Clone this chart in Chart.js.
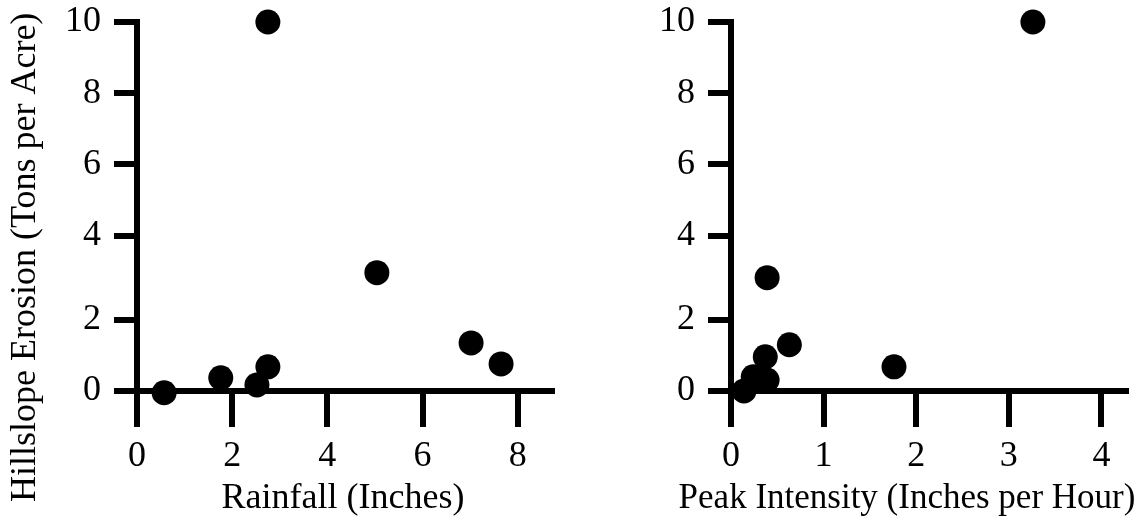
<!DOCTYPE html>
<html>
<head>
<meta charset="utf-8">
<script src="https://cdn.jsdelivr.net/npm/chart.js@4/dist/chart.umd.min.js"></script>
<style>
    html, body { margin: 0; padding: 0; background: #fff; }
    #wrap { position: relative; width: 1138px; height: 523px; }
    .panel { position: absolute; top: 0; width: 569px; height: 523px; }
</style>
</head>
<body>
<div id="wrap">
    <div class="panel" style="left:0"><canvas id="rainChart" width="569" height="523"></canvas></div>
    <div class="panel" style="left:569px"><canvas id="peakChart" width="569" height="523"></canvas></div>
</div>
<script>
// Storm data
const rainfall = [0.57, 1.76, 2.52, 2.75, 2.75, 5.04, 7.02, 7.65];
const erosionByRain = [-0.05, 0.37, 0.17, 0.68, 10, 3.12, 1.35, 0.76];

const peakIntensity = [0.14, 0.24, 0.39, 0.37, 0.39, 0.63, 1.76, 3.26];
const erosionByPeak = [0.0, 0.4, 0.31, 0.96, 3.0, 1.3, 0.68, 10];

const rainTicks = [0, 2, 4, 6, 8];
const peakTicks = [0, 1, 2, 3, 4];
const erosionTicks = [0, 2, 4, 6, 8, 10];

const rainTitle = 'Rainfall (Inches)';
const peakTitle = 'Peak Intensity (Inches per Hour)';
const erosionTitle = 'Hillslope Erosion (Tons per Acre)';

const FONT_FAMILY = '"Liberation Serif", "Times New Roman", serif';
const FONT_SIZE = 36;

// The original y axis has the 2..4 interval drawn a bit taller than the others
const STRETCH_FROM = 2, STRETCH_TO = 4, STRETCH = 84 / 71;

function stretch(v) {
    if (v <= STRETCH_FROM) return v;
    if (v <= STRETCH_TO) return STRETCH_FROM + (v - STRETCH_FROM) * STRETCH;
    return STRETCH_FROM + (STRETCH_TO - STRETCH_FROM) * STRETCH + (v - STRETCH_TO);
}

function unstretch(s) {
    const top = STRETCH_FROM + (STRETCH_TO - STRETCH_FROM) * STRETCH;
    if (s <= STRETCH_FROM) return s;
    if (s <= top) return STRETCH_FROM + (s - STRETCH_FROM) / STRETCH;
    return STRETCH_TO + (s - top);
}

class StretchedScale extends Chart.LinearScale {
    getPixelForValue(value) {
        if (value === null || isNaN(value)) return NaN;
        const lo = stretch(this.min), hi = stretch(this.max);
        return this.getPixelForDecimal((stretch(value) - lo) / (hi - lo));
    }
    getValueForPixel(pixel) {
        const lo = stretch(this.min), hi = stretch(this.max);
        return unstretch(lo + this.getDecimalForPixel(pixel) * (hi - lo));
    }
}
StretchedScale.id = 'stretched';
StretchedScale.defaults = Chart.LinearScale.defaults;
Chart.register(StretchedScale);

// Axis titles are placed freely, like in the original figure
const axisTitles = {
    id: 'axisTitles',
    afterDraw(chart, args, opts) {
        const ctx = chart.ctx;
        ctx.save();
        ctx.fillStyle = '#000';
        ctx.textBaseline = 'alphabetic';
        (opts.items || []).forEach(t => {
            ctx.save();
            ctx.font = `${t.size || FONT_SIZE}px ${FONT_FAMILY}`;
            ctx.translate(t.x, t.y);
            if (t.rotate) ctx.rotate(t.rotate);
            ctx.textAlign = t.align || 'center';
            ctx.fillText(t.text, 0, 0);
            ctx.restore();
        });
        ctx.restore();
    }
};

Chart.defaults.color = '#000';
Chart.defaults.font.family = FONT_FAMILY;

function tickList(values) {
    return (scale) => { scale.ticks = values.map(v => ({ value: v })); };
}

function buildChart(canvasId, xs, ys, xTicks, xMax, yAxisWidth, padRight, titles) {
    const points = xs.map((x, i) => ({ x: x, y: ys[i] }));
    return new Chart(document.getElementById(canvasId), {
        type: 'scatter',
        data: {
            datasets: [{
                data: points,
                backgroundColor: '#000',
                borderWidth: 0,
                pointRadius: 12.5,
                pointHoverRadius: 12.5,
                clip: false
            }]
        },
        options: {
            responsive: false,
            animation: false,
            events: [],
            layout: { padding: { top: 22, right: padRight, bottom: 0, left: 0 } },
            plugins: {
                legend: { display: false },
                tooltip: { enabled: false },
                axisTitles: { items: titles }
            },
            scales: {
                x: {
                    type: 'linear',
                    position: 'bottom',
                    min: 0,
                    max: xMax,
                    afterBuildTicks: tickList(xTicks),
                    afterFit: (s) => { s.height = 132; s.paddingLeft = 0; s.paddingRight = 0; },
                    grid: { drawOnChartArea: false, color: '#000', lineWidth: 6, tickLength: 36 },
                    border: { color: '#000', width: 6 },
                    ticks: {
                        autoSkip: false,
                        maxRotation: 0,
                        padding: 8,
                        font: { size: FONT_SIZE },
                        callback: (v) => String(v)
                    }
                },
                y: {
                    type: 'stretched',
                    position: 'left',
                    min: 0,
                    max: 10,
                    afterBuildTicks: tickList(erosionTicks),
                    afterFit: (s) => { s.width = yAxisWidth; s.paddingTop = 0; s.paddingBottom = 0; },
                    grid: { drawOnChartArea: false, color: '#000', lineWidth: 6, tickLength: 23 },
                    border: { color: '#000', width: 6 },
                    ticks: {
                        autoSkip: false,
                        padding: 13,
                        font: { size: FONT_SIZE },
                        callback: (v) => String(v)
                    }
                }
            }
        },
        plugins: [axisTitles]
    });
}

buildChart('rainChart', rainfall, erosionByRain, rainTicks, 8.72, 137, 17, [
    { text: rainTitle, x: 343, y: 508 },
    { text: erosionTitle, x: 35, y: 502, rotate: -Math.PI / 2, align: 'left' }
]);

buildChart('peakChart', peakIntensity, erosionByPeak, peakTicks, 4.26, 162, 0, [
    { text: peakTitle, x: 907 - 569, y: 508, size: 35 }
]);
</script>
</body>
</html>
